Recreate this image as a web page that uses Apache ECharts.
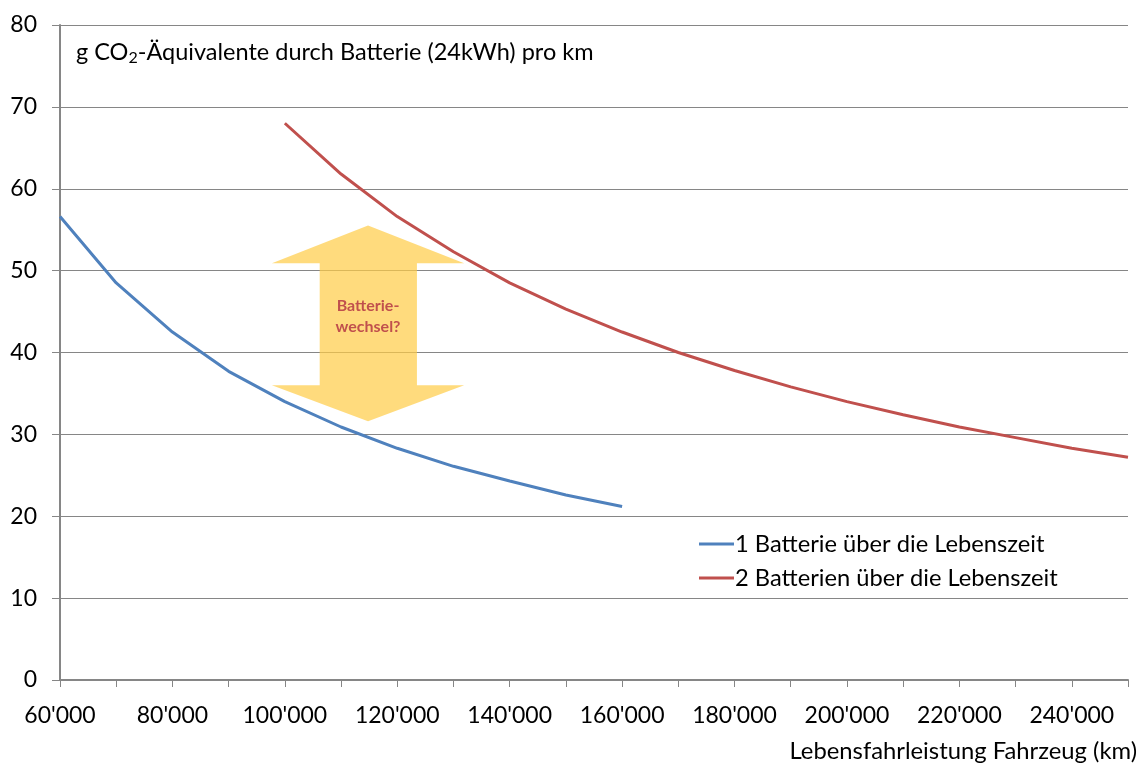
<!DOCTYPE html>
<html>
<head>
<meta charset="utf-8">
<title>CO2 Batterie</title>
<script src="https://cdn.jsdelivr.net/npm/echarts@6/dist/echarts.min.js"></script>
<style>
  html, body { margin: 0; padding: 0; background: #fff; }
  #chart { width: 1141px; height: 763px; }
</style>
</head>
<body>
<div id="chart"></div>
<script>
// Lebensfahrleistung (km)
const kmOne = [60000, 70000, 80000, 90000, 100000, 110000, 120000, 130000, 140000, 150000, 160000];
const valOne = [56.6, 48.5, 42.5, 37.7, 34.0, 30.9, 28.3, 26.1, 24.3, 22.6, 21.2];
const kmTwo = [100000, 110000, 120000, 130000, 140000, 150000, 160000, 170000, 180000, 190000, 200000, 210000, 220000, 230000, 240000, 250000];
const valTwo = [68.0, 61.8, 56.6, 52.3, 48.5, 45.3, 42.5, 40.0, 37.8, 35.8, 34.0, 32.4, 30.9, 29.6, 28.3, 27.2];
const seriesNames = ['1 Batterie über die Lebenszeit', '2 Batterien über die Lebenszeit'];

// Doppelpfeil "Batteriewechsel?" (Eckpunkte in Achsenwerten)
const arrowKm = [114800, 131900, 123500, 123500, 131900, 114800, 97700, 106200, 106200, 97700];
const arrowVal = [55.5, 50.9, 50.9, 36.0, 36.0, 31.6, 36.0, 36.0, 50.9, 50.9];
const arrowLabel = 'Batterie-\nwechsel?';
const arrowLabelAt = [114800, 44.4];

const FONT = 'Lato';
const axisColor = '#868686';

function fmtKm(v) {
  const s = String(Math.round(v));
  return s.replace(/\B(?=(\d{3})+(?!\d))/g, "'");
}

let chart = echarts.init(document.getElementById('chart'));
let option = {
  animation: false,
  textStyle: { fontFamily: FONT },
  title: [
    {
      text: 'g CO{sub|2}-Äquivalente durch Batterie (24kWh) pro km',
      left: 76,
      top: 38,
      padding: 0,
      textStyle: {
        fontFamily: FONT,
        fontSize: 23.5,
        fontWeight: 'normal',
        color: '#000',
        lineHeight: 28,
        rich: {
          sub: { fontFamily: FONT, fontSize: 16, color: '#000', lineHeight: 12, verticalAlign: 'bottom' }
        }
      }
    },
    {
      text: 'Lebensfahrleistung Fahrzeug (km)',
      right: 4,
      top: 739,
      padding: 0,
      textStyle: { fontFamily: FONT, fontSize: 23.8, fontWeight: 'normal', color: '#000' }
    }
  ],
  legend: {
    data: seriesNames,
    orient: 'vertical',
    left: 699,
    top: 532,
    itemGap: 10,
    itemWidth: 35,
    itemHeight: 3,
    icon: 'rect',
    padding: 0,
    textStyle: { fontFamily: FONT, fontSize: 23.7, color: '#000', padding: [0, 0, 0, -4] }
  },
  grid: { left: 60, right: 13, top: 25, bottom: 83, containLabel: false },
  xAxis: {
    type: 'value',
    min: 60000,
    max: 250000,
    interval: 10000,
    axisLine: { show: true, lineStyle: { color: axisColor, width: 2 } },
    axisTick: { show: true, length: 7, lineStyle: { color: axisColor, width: 1 } },
    axisLabel: {
      fontFamily: FONT,
      fontSize: 23,
      color: '#000',
      margin: 24,
      formatter: function (v) {
        return (Math.round(v / 10000) % 2 === 0) ? fmtKm(v) : '';
      }
    },
    splitLine: { show: false }
  },
  yAxis: {
    type: 'value',
    min: 0,
    max: 80,
    interval: 10,
    axisLine: { show: true, lineStyle: { color: axisColor, width: 2 } },
    axisTick: { show: true, length: 8, lineStyle: { color: axisColor, width: 1 } },
    axisLabel: { fontFamily: FONT, fontSize: 23, color: '#000', margin: 23 },
    splitLine: { show: true, lineStyle: { color: axisColor, width: 1 } }
  },
  series: [
    {
      type: 'custom',
      name: 'arrow',
      silent: true,
      z: 1,
      data: [arrowLabelAt],
      renderItem: function (params, api) {
        const pts = arrowKm.map((k, i) => api.coord([k, arrowVal[i]]));
        const c = api.coord(arrowLabelAt);
        return {
          type: 'group',
          children: [
            { type: 'polygon', shape: { points: pts }, style: { fill: 'rgba(255,204,70,0.7)' } },
            {
              type: 'text',
              x: c[0], y: c[1],
              style: {
                text: arrowLabel,
                fill: '#C0504D',
                font: 'bold 16px ' + FONT,
                align: 'center',
                verticalAlign: 'middle',
                lineHeight: 21
              }
            }
          ]
        };
      }
    },
    {
      name: seriesNames[0],
      type: 'line',
      data: kmOne.map((k, i) => [k, valOne[i]]),
      symbol: 'none',
      z: 3,
      lineStyle: { color: '#4F81BD', width: 3 },
      itemStyle: { color: '#4F81BD' }
    },
    {
      name: seriesNames[1],
      type: 'line',
      data: kmTwo.map((k, i) => [k, valTwo[i]]),
      symbol: 'none',
      z: 3,
      lineStyle: { color: '#C0504D', width: 3 },
      itemStyle: { color: '#C0504D' }
    }
  ]
};
option && chart.setOption(option);
</script>
</body>
</html>
